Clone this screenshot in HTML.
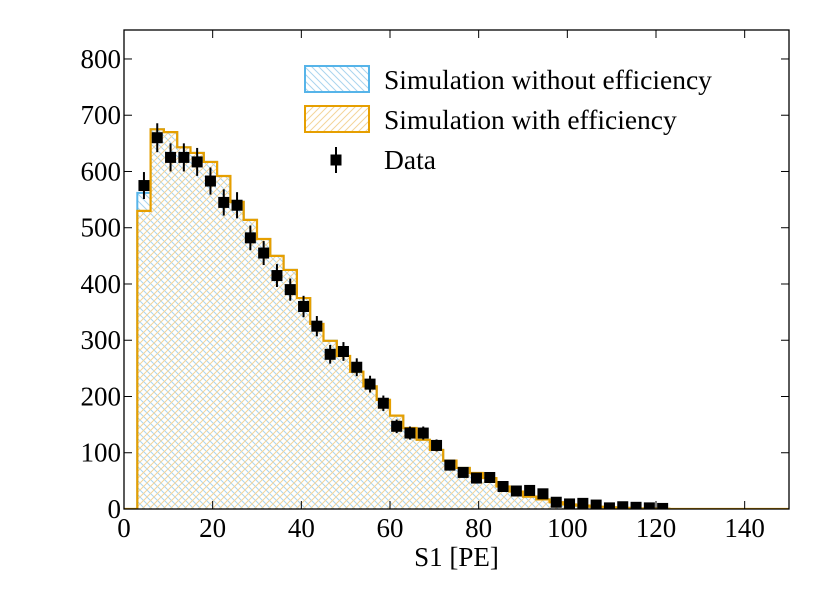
<!DOCTYPE html>
<html><head><meta charset="utf-8"><style>
html,body{margin:0;padding:0;background:#fff;}
svg text{font-family:"Liberation Serif",serif;fill:#000;}
</style></head><body>
<svg id="chart" width="830" height="599" viewBox="0 0 830 599" xmlns="http://www.w3.org/2000/svg">
<defs>
<pattern id="hatchBlue" patternUnits="userSpaceOnUse" width="7" height="7">
<path d="M0,0 L7,7 M-1,6 L1,8 M6,-1 L8,1" stroke="#aad4ee" stroke-width="1"/>
</pattern>
<pattern id="hatchOrange" patternUnits="userSpaceOnUse" width="7" height="7">
<path d="M0,7 L7,0 M-1,1 L1,-1 M6,8 L8,6" stroke="#f3d49a" stroke-width="1"/>
</pattern>
<clipPath id="plotClip"><rect x="124" y="30" width="665" height="479"/></clipPath>
</defs>
<g id="plot" clip-path="url(#plotClip)"></g>
<g id="axes"></g>
<g id="legend">
<rect x="305" y="66" width="64" height="26" fill="url(#hatchBlue)" stroke="#56b4e9" stroke-width="2"/>
<text x="384" y="89" font-size="27.5">Simulation without efficiency</text>
<rect x="305" y="106" width="64" height="26" fill="url(#hatchOrange)" stroke="#e69f00" stroke-width="2"/>
<text x="384" y="129" font-size="27.5">Simulation with efficiency</text>
<line x1="336" y1="147" x2="336" y2="173" stroke="#000" stroke-width="2"/>
<rect x="330.5" y="154.5" width="11" height="11" fill="#000"/>
<text x="384" y="169" font-size="27.5">Data</text>
</g>
</svg>
<script>
const binEdgeStart = 3;
const binWidth = 3;
const simWithEff = [530,675,670,643,633,617,592,546,514,480,450,425,375,329,299,272,244,218,194,166,144,123,105,86,73,64,55,40,31,22,17,12,8,6,4,3,2,1,1,0.5];
const simWithoutEff = [562,675,670,643,633,617,592,546,514,480,450,425,375,329,299,272,244,218,194,166,144,123,105,86,73,64,55,40,31,22,17,12,8,6,4,3,2,1,1,0.5];
const dataCenters = [4.5,7.5,10.5,13.5,16.5,19.5,22.5,25.5,28.5,31.5,34.5,37.5,40.5,43.5,46.5,49.5,52.5,55.5,58.5,61.5,64.5,67.5,70.5,73.5,76.5,79.5,82.5,85.5,88.5,91.5,94.5,97.5,100.5,103.5,106.5,109.5,112.5,115.5,118.5,121.5];
const dataValues = [575,660,625,625,617,583,545,540,482,455,415,390,360,325,275,280,252,222,188,147,135,135,113,78,65,55,56,40,32,33,27,12,9,10,7,2,4,3,2,1];
const xTicks = [0,20,40,60,80,100,120,140];
const yTicks = [0,100,200,300,400,500,600,700,800];

const L=124,R=789,T=30,B=509, XMAX=150, YMAX=851.5;
const sx=v=>L+(R-L)*v/XMAX;
const sy=v=>B-(B-T)*v/YMAX;
const NS="http://www.w3.org/2000/svg";
const plot=document.getElementById('plot'), axes=document.getElementById('axes');
function mk(tag,attrs,parent){const e=document.createElementNS(NS,tag);for(const k in attrs)e.setAttribute(k,attrs[k]);parent.appendChild(e);return e;}

function histPath(vals){
  let d=`M${sx(0)},${sy(0)} L${sx(binEdgeStart)},${sy(0)}`;
  vals.forEach((v,i)=>{const a=binEdgeStart+i*binWidth,b=a+binWidth;d+=` L${sx(a)},${sy(v)} L${sx(b)},${sy(v)}`;});
  const end=binEdgeStart+vals.length*binWidth;
  d+=` L${sx(end)},${sy(0)} L${sx(XMAX)},${sy(0)}`;
  return d;
}
function histFill(vals){return histPath(vals)+' Z';}

let e;
e=mk('path',{d:histFill(simWithoutEff),fill:'url(#hatchBlue)',stroke:'none'},plot);


e=mk('path',{d:histFill(simWithEff),fill:'url(#hatchOrange)',stroke:'none'},plot);


e=mk('path',{d:histPath(simWithoutEff),fill:'none',stroke:'#56b4e9','stroke-width':2},plot);


e=mk('path',{d:histPath(simWithEff),fill:'none',stroke:'#e69f00','stroke-width':2.2},plot);



dataValues.forEach((v,i)=>{
  const x=sx(dataCenters[i]), err=Math.sqrt(v);
  const g=mk('g',{},plot);
  
  
  mk('line',{x1:x,x2:x,y1:sy(v+err),y2:sy(v-err),stroke:'#000','stroke-width':2},g);
  mk('rect',{x:x-5.5,y:sy(v)-5.5,width:11,height:11,fill:'#000'},g);
});

e=mk('rect',{x:L,y:T,width:R-L,height:B-T,fill:'none',stroke:'#000','stroke-width':1.3},axes);


xTicks.forEach(t=>{
  const x=sx(t);
  mk('line',{x1:x,x2:x,y1:B,y2:B-8,stroke:'#000','stroke-width':1},axes);
  mk('line',{x1:x,x2:x,y1:T,y2:T+8,stroke:'#000','stroke-width':1},axes);
  const tx=mk('text',{x:x,y:B+28,'font-size':27,'text-anchor':'middle'},axes);
  tx.textContent=t;
  
  
});
yTicks.forEach(t=>{
  const y=sy(t);
  mk('line',{x1:L,x2:L+8,y1:y,y2:y,stroke:'#000','stroke-width':1},axes);
  mk('line',{x1:R,x2:R-8,y1:y,y2:y,stroke:'#000','stroke-width':1},axes);
  const tx=mk('text',{x:L-3,y:y+9,'font-size':27,'text-anchor':'end'},axes);
  tx.textContent=t;
  
  
});
e=mk('text',{x:(L+R)/2,y:566,'font-size':27,'text-anchor':'middle'},axes);
e.textContent='S1 [PE]';


</script>
</body></html>
